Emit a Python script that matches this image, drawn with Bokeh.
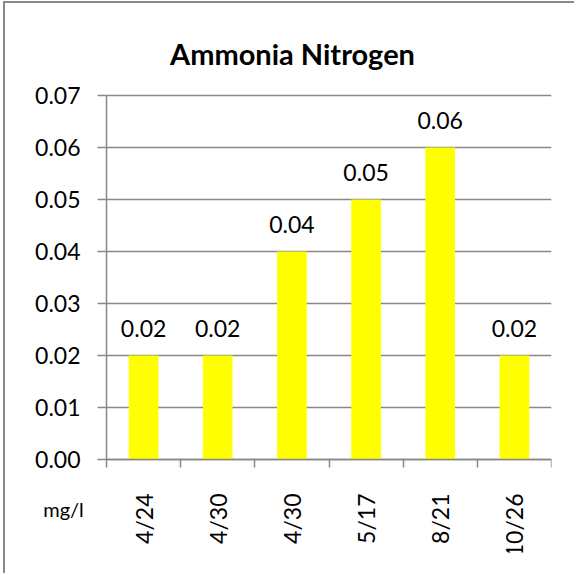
import math
from bokeh.plotting import figure
from bokeh.models import FixedTicker, Range1d, LabelSet, ColumnDataSource, NumeralTickFormatter
from bokeh.core.properties import value
from bokeh.embed import file_html
from bokeh.resources import INLINE

# ---- data ----
dates = ["4/24", "4/30", "4/30", "5/17", "8/21", "10/26"]
ammonia = [0.02, 0.02, 0.04, 0.05, 0.06, 0.02]
ammonia_labels = ["0.02", "0.02", "0.04", "0.05", "0.06", "0.02"]
y_ticks = [0.00, 0.01, 0.02, 0.03, 0.04, 0.05, 0.06, 0.07]
unit_label = "mg/l"
title_text = "Ammonia Nitrogen"

FONT = "Lato"
GRAY = "#878787"

n = len(dates)
pos = [i + 0.5 for i in range(n)]
bounds = [float(i) for i in range(n + 1)]

# ---- layout (page pixels) ----
OX, OY = 5, 3                # canvas origin on the page
W, H = 571, 572
AX_L, AX_R, AX_T, AX_B = 106, 551, 95, 459   # data area (0..n, 0..0.07)
FR_L, FR_R, FR_T, FR_B = 30, 551, 20, 552    # frame incl. title and unit text
PXX = (AX_R - AX_L) / n
PXY = (AX_B - AX_T) / (y_ticks[-1] - y_ticks[0])

x_range = Range1d(-(AX_L - FR_L) / PXX, n + (FR_R - AX_R) / PXX)
y_range = Range1d(y_ticks[0] - (FR_B - AX_B) / PXY, y_ticks[-1] + (AX_T - FR_T) / PXY)

p = figure(width=W, height=H, x_range=x_range, y_range=y_range,
           output_backend="svg", toolbar_location=None,
           min_border_left=FR_L - OX, min_border_right=OX + W - FR_R,
           min_border_top=FR_T - OY, min_border_bottom=OY + H - FR_B)
p.margin = (1, 0, -8, 3)
p.styles = {"border-left": "2px solid #898989", "border-top": "2px solid #898989"}
p.outline_line_color = None
p.background_fill_color = "white"
p.border_fill_color = "white"
p.xgrid.grid_line_color = None
p.ygrid.grid_line_color = None

# horizontal gridlines (behind bars)
p.segment(x0=[0] * len(y_ticks), x1=[n] * len(y_ticks), y0=y_ticks, y1=y_ticks,
          line_color=GRAY, line_width=1.5)

src = ColumnDataSource(dict(x=pos, top=ammonia, lab=ammonia_labels))
p.vbar(x="x", top="top", width=0.4, source=src, fill_color="#FFFF00", line_color=None)

labels = LabelSet(x="x", y="top", text="lab", source=src, y_offset=19,
                  text_align="center", text_baseline="alphabetic",
                  text_font=value(FONT), text_font_size="23px", text_color="black")
p.add_layout(labels)

# x axis
xa = p.xaxis[0]
xa.fixed_location = 0
xa.bounds = (0, n)
xa.ticker = FixedTicker(ticks=pos, minor_ticks=bounds)
xa.major_label_overrides = {x: d for x, d in zip(pos, dates)}
xa.major_tick_line_color = None
xa.major_tick_out = 0
xa.major_tick_in = 0
xa.minor_tick_line_color = GRAY
xa.minor_tick_line_width = 1.5
xa.minor_tick_out = 8
xa.minor_tick_in = 0
xa.axis_line_color = GRAY
xa.axis_line_width = 1.5
xa.major_label_orientation = math.pi / 2
xa.major_label_standoff = 26
xa.major_label_text_font = FONT
xa.major_label_text_font_size = "23px"
xa.major_label_text_color = "black"

# y axis
ya = p.yaxis[0]
ya.fixed_location = 0
ya.bounds = (y_ticks[0], y_ticks[-1])
ya.ticker = FixedTicker(ticks=y_ticks)
ya.formatter = NumeralTickFormatter(format="0.00")
ya.major_tick_out = 9
ya.major_tick_in = 0
ya.major_tick_line_color = GRAY
ya.major_tick_line_width = 1.5
ya.minor_tick_line_color = None
ya.axis_line_color = GRAY
ya.axis_line_width = 1.5
ya.major_label_standoff = 17
ya.major_label_text_font = FONT
ya.major_label_text_font_size = "23px"
ya.major_label_text_color = "black"

# title and unit text
p.text(x=[(292 - AX_L) / PXX], y=[y_ticks[-1] + (AX_T - 53) / PXY], text=[title_text],
       text_align="center", text_baseline="alphabetic",
       text_font=value(FONT), text_font_style="bold", text_font_size="29px",
       text_color="black")
p.text(x=[(63 - AX_L) / PXX], y=[y_ticks[0] - (508 - AX_B) / PXY], text=[unit_label],
       text_align="center", text_baseline="alphabetic",
       text_font=value(FONT), text_font_size="20px", text_color="black")

open("out.html", "w").write(file_html(p, INLINE))
